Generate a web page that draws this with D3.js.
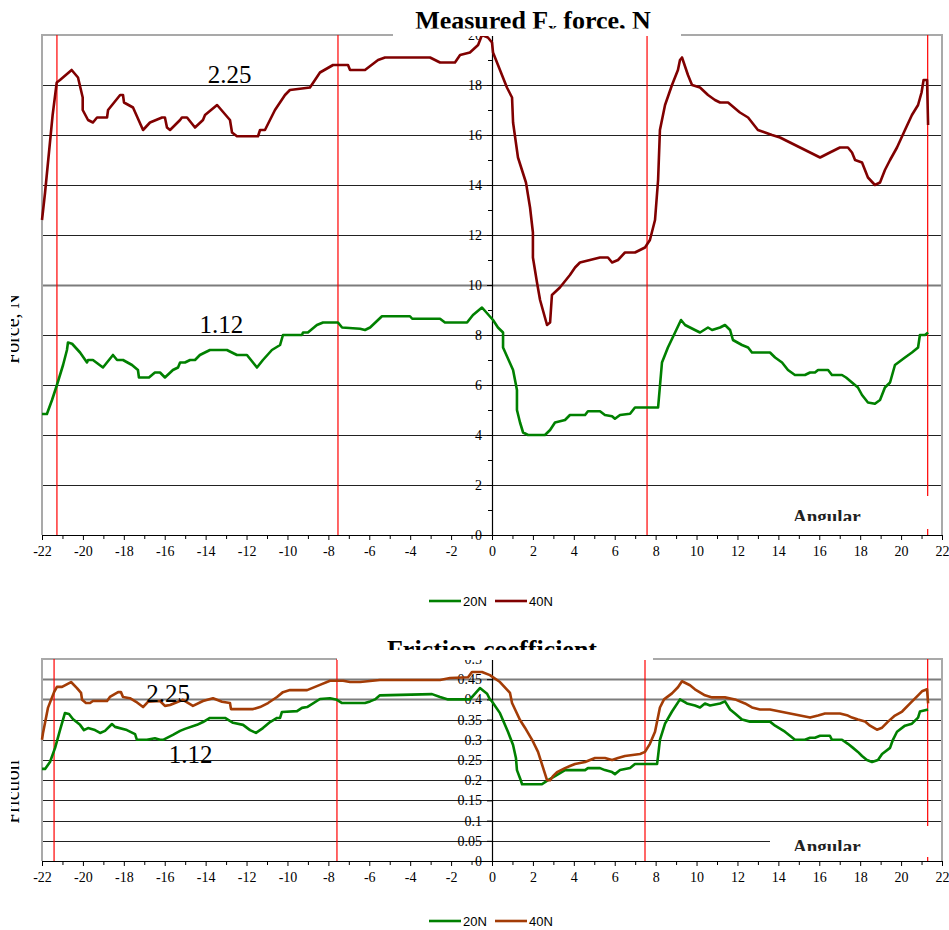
<!DOCTYPE html>
<html><head><meta charset="utf-8">
<script src="https://cdn.jsdelivr.net/npm/d3@7"></script>
<style>body{margin:0;background:#fff}svg{display:block}</style>
</head><body>
<script>
// ---------- DATA ----------
const xTickValues = [-22,-20,-18,-16,-14,-12,-10,-8,-6,-4,-2,0,2,4,6,8,10,12,14,16,18,20,22];
const xMinorTicks = [-21,-19,-17,-15,-13,-11,-9,-7,-5,-3,-1,1,3,5,7,9,11,13,15,17,19,21];
const forceTicks = [0,2,4,6,8,10,12,14,16,18,20];
const forceMinorTicks = [1,3,5,7,9,11,13,15,17,19];
const frictionTicks = [0,0.05,0.1,0.15,0.2,0.25,0.3,0.35,0.4,0.45,0.5];
const frictionTickLabels = ["0","0.05","0.1","0.15","0.2","0.25","0.3","0.35","0.4","0.45","0.5"];
const seriesNames = ["20N","40N"];
const forceRedLines = [-21.27,-7.53,7.58,21.3];
const frictionRedLines = [-21.41,-7.58,7.48,21.3];
const forceLabels = [{t:"2.25",x:-13.9,y:18.1},{t:"1.12",x:-14.3,y:8.1}];
const frictionLabels = [{t:"2.25",x:-16.9,y:0.394},{t:"1.12",x:-15.8,y:0.243}];

const force40N = [[-22.0,12.6],[-21.85,13.7],[-21.48,16.8],[-21.28,18.1],[-21.12,18.2],[-20.55,18.6],[-20.24,18.3],[-20.01,17.5],[-20.01,17.0],[-19.75,16.6],[-19.51,16.5],[-19.31,16.7],[-18.82,16.7],[-18.77,17.0],[-18.18,17.6],[-18.04,17.6],[-17.99,17.3],[-17.55,17.1],[-17.06,16.2],[-16.72,16.5],[-16.13,16.7],[-15.99,16.7],[-15.89,16.3],[-15.74,16.2],[-15.25,16.6],[-15.16,16.7],[-14.91,16.7],[-14.52,16.3],[-14.13,16.6],[-14.03,16.8],[-13.44,17.2],[-12.81,16.6],[-12.71,16.1],[-12.47,15.95],[-11.44,15.95],[-11.34,16.2],[-11.10,16.2],[-10.61,17.0],[-10.12,17.6],[-9.88,17.8],[-8.90,17.9],[-8.41,18.5],[-7.77,18.8],[-7.04,18.8],[-6.94,18.6],[-6.21,18.6],[-5.57,19.0],[-5.23,19.1],[-3.03,19.1],[-2.54,18.9],[-1.81,18.9],[-1.56,19.2],[-1.08,19.3],[-0.68,19.6],[-0.49,20.0],[-0.20,19.9],[0,19.7],[0.05,19.3],[0.73,17.9],[0.98,17.5],[1.03,16.5],[1.27,15.1],[1.66,14.1],[1.86,13.1],[2.0,12.1],[2.0,11.1],[2.20,10.1],[2.35,9.4],[2.69,8.4],[2.84,8.5],[2.93,9.6],[3.32,9.9],[3.81,10.4],[4.06,10.7],[4.30,10.9],[4.79,11.0],[5.28,11.1],[5.67,11.1],[5.87,10.9],[6.16,11.0],[6.50,11.3],[6.99,11.3],[7.48,11.5],[7.72,11.8],[7.97,12.6],[8.12,14.2],[8.21,16.2],[8.46,17.2],[8.80,18.0],[9.09,18.6],[9.19,19.0],[9.29,19.1],[9.58,18.4],[9.78,18.0],[10.17,17.9],[10.56,17.6],[10.90,17.4],[11.15,17.3],[11.54,17.3],[12.12,16.9],[12.52,16.7],[13.0,16.2],[13.35,16.1],[13.69,16.0],[14.08,15.9],[14.57,15.7],[15.06,15.5],[15.55,15.3],[16.04,15.1],[16.52,15.3],[17.01,15.5],[17.40,15.5],[17.60,15.3],[17.75,15.0],[18.09,14.9],[18.38,14.3],[18.72,14.0],[18.97,14.1],[19.21,14.6],[19.46,15.0],[19.80,15.5],[20.19,16.2],[20.53,16.8],[20.83,17.2],[21.0,17.7],[21.1,18.2],[21.27,18.2],[21.32,16.4]];

const force20N = [[-22.0,4.84],[-21.76,4.84],[-21.51,5.4],[-21.27,6.0],[-20.97,6.8],[-20.78,7.4],[-20.73,7.7],[-20.53,7.65],[-20.14,7.3],[-19.80,6.9],[-19.75,7.0],[-19.51,7.0],[-19.02,6.7],[-18.53,7.2],[-18.33,7.0],[-18.04,7.0],[-17.60,6.8],[-17.31,6.6],[-17.26,6.3],[-16.77,6.3],[-16.48,6.5],[-16.23,6.5],[-15.99,6.3],[-15.60,6.6],[-15.35,6.7],[-15.25,6.9],[-15.01,6.9],[-14.76,7.0],[-14.52,7.0],[-14.28,7.2],[-13.79,7.4],[-12.96,7.4],[-12.47,7.2],[-11.98,7.2],[-11.49,6.7],[-11.20,7.0],[-10.76,7.4],[-10.36,7.6],[-10.22,8.0],[-9.29,8.0],[-9.24,8.1],[-9.0,8.1],[-8.56,8.4],[-8.26,8.5],[-7.53,8.5],[-7.33,8.3],[-6.45,8.25],[-6.21,8.2],[-5.96,8.3],[-5.38,8.75],[-4.01,8.75],[-3.9,8.65],[-2.54,8.65],[-2.30,8.5],[-1.22,8.5],[-0.93,8.8],[-0.49,9.1],[0.05,8.6],[0.29,8.3],[0.54,8.1],[0.54,7.5],[1.03,6.6],[1.22,5.8],[1.22,5.0],[1.37,4.5],[1.52,4.1],[1.76,4.0],[2.59,4.0],[2.84,4.2],[3.08,4.5],[3.57,4.6],[3.81,4.8],[4.55,4.8],[4.69,4.95],[5.28,4.95],[5.52,4.8],[5.87,4.75],[6.01,4.65],[6.26,4.8],[6.75,4.85],[6.99,5.1],[8.12,5.1],[8.31,6.9],[8.60,7.5],[8.95,8.1],[9.24,8.6],[9.44,8.4],[9.92,8.2],[10.17,8.1],[10.56,8.3],[10.76,8.2],[11.15,8.3],[11.39,8.4],[11.64,8.2],[11.78,7.8],[12.22,7.6],[12.52,7.5],[12.71,7.3],[13.59,7.3],[13.84,7.1],[14.18,6.9],[14.47,6.6],[14.81,6.4],[15.30,6.4],[15.55,6.5],[15.79,6.5],[15.94,6.6],[16.43,6.6],[16.62,6.4],[17.11,6.4],[17.31,6.3],[17.60,6.1],[17.89,5.9],[18.09,5.6],[18.38,5.3],[18.72,5.25],[18.97,5.4],[19.21,5.9],[19.46,6.1],[19.70,6.8],[20.19,7.1],[20.53,7.3],[20.83,7.5],[20.92,8.0],[21.17,8.0],[21.32,8.1]];

const friction40N = [[-22.0,0.30],[-21.95,0.317],[-21.71,0.379],[-21.41,0.418],[-21.27,0.431],[-21.02,0.431],[-20.58,0.443],[-20.29,0.428],[-20.09,0.416],[-20.04,0.399],[-19.85,0.391],[-19.65,0.391],[-19.51,0.396],[-18.82,0.396],[-18.68,0.406],[-18.28,0.418],[-18.14,0.418],[-18.04,0.406],[-17.70,0.403],[-17.40,0.394],[-17.06,0.381],[-16.82,0.394],[-16.23,0.396],[-15.99,0.384],[-15.74,0.386],[-15.35,0.394],[-15.11,0.399],[-14.62,0.384],[-14.13,0.396],[-13.64,0.403],[-13.20,0.394],[-12.81,0.391],[-12.76,0.376],[-11.68,0.376],[-11.34,0.381],[-10.95,0.391],[-10.51,0.406],[-10.22,0.418],[-9.88,0.423],[-9.04,0.423],[-8.41,0.436],[-7.92,0.446],[-7.28,0.446],[-6.94,0.443],[-6.45,0.443],[-5.48,0.448],[-2.54,0.448],[-2.05,0.453],[-1.17,0.455],[-0.98,0.468],[-0.49,0.468],[-0.10,0.46],[0.39,0.443],[0.88,0.416],[0.98,0.391],[1.37,0.349],[1.61,0.33],[1.96,0.30],[2.25,0.27],[2.44,0.24],[2.69,0.20],[2.84,0.20],[2.98,0.21],[3.18,0.22],[3.57,0.23],[3.81,0.235],[4.06,0.24],[4.55,0.245],[4.79,0.25],[5.04,0.255],[5.52,0.255],[5.87,0.25],[6.16,0.255],[6.50,0.26],[7.24,0.265],[7.48,0.27],[7.72,0.29],[7.97,0.32],[8.21,0.38],[8.41,0.40],[8.80,0.415],[9.09,0.43],[9.29,0.445],[9.68,0.435],[9.92,0.425],[10.41,0.41],[10.76,0.405],[11.39,0.405],[11.88,0.40],[12.37,0.39],[12.71,0.38],[13.10,0.375],[13.59,0.375],[14.08,0.37],[14.57,0.365],[15.06,0.36],[15.55,0.355],[15.94,0.36],[16.28,0.365],[17.01,0.365],[17.40,0.36],[17.60,0.355],[17.89,0.35],[18.24,0.345],[18.48,0.335],[18.82,0.325],[19.07,0.33],[19.36,0.345],[19.70,0.36],[20.05,0.37],[20.44,0.39],[20.83,0.41],[21.02,0.42],[21.27,0.425],[21.32,0.39]];

const friction20N = [[-22.0,0.228],[-21.85,0.228],[-21.61,0.245],[-21.36,0.28],[-21.12,0.324],[-20.88,0.366],[-20.68,0.364],[-20.48,0.351],[-20.14,0.337],[-19.95,0.324],[-19.75,0.329],[-19.41,0.324],[-19.16,0.317],[-18.92,0.322],[-18.58,0.339],[-18.43,0.332],[-17.85,0.324],[-17.45,0.314],[-17.36,0.30],[-16.87,0.30],[-16.48,0.304],[-16.23,0.30],[-16.08,0.30],[-15.60,0.312],[-15.25,0.322],[-15.01,0.327],[-14.42,0.337],[-14.13,0.344],[-13.79,0.354],[-13.05,0.354],[-12.66,0.342],[-12.17,0.337],[-11.83,0.324],[-11.54,0.317],[-11.20,0.329],[-10.85,0.344],[-10.51,0.354],[-10.36,0.354],[-10.27,0.369],[-9.53,0.371],[-9.29,0.379],[-9.04,0.381],[-8.41,0.401],[-7.92,0.403],[-7.58,0.399],[-7.33,0.391],[-6.94,0.391],[-6.21,0.391],[-5.96,0.395],[-5.72,0.40],[-5.48,0.41],[-2.93,0.413],[-2.54,0.406],[-2.15,0.40],[-1.08,0.40],[-0.59,0.428],[-0.24,0.414],[-0.10,0.40],[0,0.395],[0.39,0.366],[0.49,0.354],[0.78,0.32],[1.03,0.287],[1.17,0.255],[1.22,0.225],[1.37,0.205],[1.47,0.19],[2.44,0.19],[2.74,0.20],[3.08,0.21],[3.57,0.225],[4.55,0.225],[4.69,0.23],[5.28,0.23],[5.52,0.225],[5.87,0.22],[6.01,0.215],[6.26,0.225],[6.75,0.23],[6.99,0.24],[8.07,0.24],[8.12,0.26],[8.21,0.30],[8.46,0.34],[8.80,0.37],[9.19,0.40],[9.53,0.39],[9.92,0.385],[10.17,0.38],[10.41,0.39],[10.66,0.385],[11.15,0.39],[11.39,0.395],[11.64,0.375],[11.88,0.365],[12.22,0.35],[12.61,0.345],[13.59,0.345],[13.84,0.335],[14.32,0.32],[14.57,0.31],[14.81,0.30],[15.30,0.30],[15.55,0.305],[15.79,0.305],[16.04,0.31],[16.52,0.31],[16.62,0.30],[17.11,0.30],[17.40,0.29],[17.65,0.28],[17.89,0.27],[18.09,0.26],[18.33,0.25],[18.58,0.245],[18.87,0.25],[19.07,0.265],[19.46,0.28],[19.60,0.30],[19.80,0.32],[20.19,0.335],[20.53,0.34],[20.83,0.355],[20.92,0.37],[21.32,0.375]];

// ---------- DRAW ----------
const W = 949, H = 930;
const serif = "'Liberation Serif','Times New Roman',serif";
const sans = "'Liberation Sans',Arial,sans-serif";
const svg = d3.select("body").append("svg").attr("width", W).attr("height", H);
svg.append("rect").attr("width", W).attr("height", H).attr("fill", "#fff");
const defs = svg.append("defs");
const x = d3.scaleLinear().domain([-22, 22]).range([42, 942]);
let clipId = 0;
function clip(x0, y0, w, h) {
  const id = "c" + (clipId++);
  defs.append("clipPath").attr("id", id).append("rect").attr("x", x0).attr("y", y0).attr("width", w).attr("height", h);
  return "url(#" + id + ")";
}

function panel(o) {
  const g = svg.append("g");
  const y = d3.scaleLinear().domain(o.domain).range([o.yBottom, o.yTop]);
  const L = x.range()[0], R = x.range()[1];

  // grid
  g.selectAll(".grid").data(o.grid).join("line")
    .attr("x1", L).attr("x2", R)
    .attr("y1", d => Math.round(y(d)) + 0.5).attr("y2", d => Math.round(y(d)) + 0.5)
    .attr("stroke", d => o.heavy.includes(d) ? "#7c7c7c" : "#222")
    .attr("stroke-width", d => o.heavy.includes(d) ? 2 : 1);

  // frame
  g.append("path").attr("d", `M${L},${o.yBottom} V${o.yTop} H${R} V${o.yBottom}`)
    .attr("fill", "none").attr("stroke", "#a9a9a9").attr("stroke-width", 2);

  // red reference lines
  g.selectAll(".red").data(o.red).join("line")
    .attr("x1", d => x(d)).attr("x2", d => x(d))
    .attr("y1", o.yTop).attr("y2", o.yBottom)
    .attr("stroke", "#ff0000").attr("stroke-width", 1.2);

  // x axis
  const xa = g.append("g").attr("transform", `translate(0,${o.yBottom})`)
    .call(d3.axisBottom(x).tickValues(xTickValues).tickSize(5).tickSizeOuter(0).tickPadding(6).tickFormat(d => String(d)));
  g.append("g").attr("transform", `translate(0,${o.yBottom})`)
    .call(d3.axisBottom(x).tickValues(xMinorTicks).tickSize(4).tickSizeOuter(0).tickFormat(""))
    .select(".domain").remove();
  xa.selectAll("text").attr("font-family", serif).attr("font-size", 14).attr("fill", "#000");
  xa.select(".domain").attr("stroke", "#000").attr("stroke-width", 1.2);

  // y axis at x = 0
  const ya = g.append("g").attr("transform", `translate(${x(0)},0)`)
    .call(d3.axisLeft(y).tickValues(o.ticks).tickSize(5).tickSizeOuter(0).tickPadding(5).tickFormat((d, i) => o.tickLabels[i]));
  ya.selectAll("text").attr("font-family", serif).attr("font-size", 14).attr("fill", "#000");
  ya.select(".domain").attr("stroke", "#000").attr("stroke-width", 1.2);
  if (o.minor) {
    g.append("g").attr("transform", `translate(${x(0)},0)`)
      .call(d3.axisLeft(y).tickValues(o.minor).tickSize(4).tickSizeOuter(0).tickFormat(""))
      .select(".domain").remove();
  }

  // series
  const line = d3.line().x(d => x(d[0])).y(d => y(d[1]));
  o.series.forEach(s => {
    g.append("path").datum(s.data).attr("d", line)
      .attr("fill", "none").attr("stroke", s.color).attr("stroke-width", 2.6)
      .attr("stroke-linejoin", "round");
  });

  // value annotations
  g.selectAll(".ann").data(o.labels).join("text")
    .attr("x", d => x(d.x)).attr("y", d => y(d.y))
    .attr("font-family", serif).attr("font-size", 25).attr("fill", "#000").text(d => d.t);

  // "Angular" axis-title box
  g.append("rect").attr("x", 770).attr("y", o.angBox[0]).attr("width", 171).attr("height", o.angBox[1] - o.angBox[0]).attr("fill", "#fff");
  g.append("text").attr("x", 793).attr("y", o.angBase).attr("clip-path", clip(760, o.angBase - 30, 180, 28))
    .attr("font-family", serif).attr("font-size", 19).attr("font-weight", "bold").attr("fill", "#222").text("Angular");

  // title
  g.append("rect").attr("x", o.titleBg[0]).attr("y", o.yTop - 40).attr("width", o.titleBg[1] - o.titleBg[0]).attr("height", 41).attr("fill", "#fff");
  const t = g.append("text").attr("x", o.titleX).attr("y", o.titleBase).attr("text-anchor", "middle")
    .attr("clip-path", clip(0, o.titleBase - 40, W, 40 + o.titleClip))
    .attr("font-family", serif).attr("font-size", 26).attr("font-weight", "bold").attr("fill", "#000");
  o.title.forEach(p => {
    const ts = t.append("tspan").text(p.t);
    if (p.sub) ts.attr("font-size", 17).attr("baseline-shift", "-30%");
  });

  // y axis title (mostly cut off)
  g.append("text").attr("transform", `translate(19,${o.yTitleY}) rotate(-90)`)
    .attr("clip-path", clip(-200, -8, 400, 20))
    .attr("text-anchor", "middle").attr("font-family", serif).attr("font-size", 20).attr("fill", "#000").text(o.yTitle);

  // legend
  const lg = g.append("g").attr("transform", `translate(0,${o.legendY})`);
  o.series.forEach((s, i) => {
    const x0 = 429 + i * 66;
    lg.append("line").attr("x1", x0).attr("x2", x0 + 32).attr("y1", 0).attr("y2", 0).attr("stroke", s.color).attr("stroke-width", 2.6);
    lg.append("text").attr("x", x0 + 34).attr("y", 5).attr("font-family", sans).attr("font-size", 13).attr("fill", "#000").text(s.name);
  });
}

panel({
  domain: [0, 20], yTop: 35, yBottom: 535,
  grid: [2, 4, 6, 8, 10, 12, 14, 16, 18], heavy: [10],
  ticks: forceTicks, tickLabels: forceTicks.map(String), minor: forceMinorTicks,
  red: forceRedLines,
  series: [{name: seriesNames[0], data: force20N, color: "#008000"}, {name: seriesNames[1], data: force40N, color: "#800000"}],
  labels: forceLabels,
  angBox: [496, 529], angBase: 523,
  titleBg: [393, 681], titleX: 533, titleBase: 29, titleClip: -0.5,
  title: [{t: "Measured F"}, {t: "x", sub: true}, {t: " force, N"}],
  yTitle: "Force, N", yTitleY: 329,
  legendY: 601
});

panel({
  domain: [0, 0.5], yTop: 659, yBottom: 861,
  grid: [0.05, 0.1, 0.15, 0.2, 0.25, 0.3, 0.35, 0.4, 0.45], heavy: [0.4, 0.45],
  ticks: frictionTicks, tickLabels: frictionTickLabels, minor: null,
  red: frictionRedLines,
  series: [{name: seriesNames[0], data: friction20N, color: "#008000"}, {name: seriesNames[1], data: friction40N, color: "#a33c06"}],
  labels: frictionLabels,
  angBox: [826, 857], angBase: 853,
  titleBg: [337, 653], titleX: 492, titleBase: 658, titleClip: -8,
  title: [{t: "Friction coefficient"}],
  yTitle: "Friction", yTitleY: 792,
  legendY: 921
});
</script>
</body></html>
